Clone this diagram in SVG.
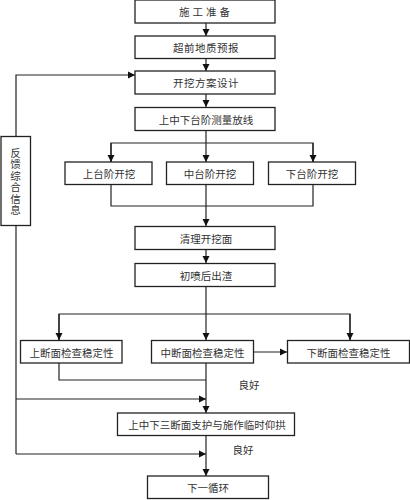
<svg xmlns="http://www.w3.org/2000/svg" width="410" height="500" viewBox="0 0 410 500">
<defs>
<marker id="ah" markerWidth="8" markerHeight="8" refX="7" refY="4" orient="auto" markerUnits="userSpaceOnUse">
<path d="M0,0.5 L7,4 L0,7.5 Z" fill="#111"/>
</marker>
<style>
.box{fill:#fff;stroke:#222;stroke-width:1.3}
.t{font-family:"Noto Sans CJK SC","Noto Sans",sans-serif;font-size:10.5px;fill:#333;text-anchor:middle;dominant-baseline:central}
.v{font-family:"Noto Sans CJK SC","Noto Sans",sans-serif;font-size:10.5px;fill:#333;text-anchor:middle;writing-mode:vertical-rl;letter-spacing:1px}
.c{fill:none;stroke:#222;stroke-width:1.2}
.a{fill:none;stroke:#222;stroke-width:1.2;marker-end:url(#ah)}
</style>
</defs>
<rect width="410" height="500" fill="#fff"/>

<g id="connectors">
<line class="a" x1="206" y1="23" x2="206" y2="36"/>
<line class="a" x1="206" y1="58" x2="206" y2="71"/>
<line class="a" x1="206" y1="94" x2="206" y2="107"/>
<line class="a" x1="206" y1="130" x2="206" y2="162"/>
<polyline class="c" points="111,162 111,143 313,143 313,162"/>
<line class="a" x1="111" y1="143" x2="111" y2="162"/>
<line class="a" x1="313" y1="143" x2="313" y2="162"/>
<polyline class="c" points="111,184 111,206 313,206 313,184"/>
<line class="a" x1="206" y1="184" x2="206" y2="226"/>
<line class="a" x1="206" y1="249" x2="206" y2="263"/>
<line class="a" x1="206" y1="286" x2="206" y2="340"/>
<polyline class="c" points="59,340 59,314 350,314 350,340"/>
<line class="a" x1="59" y1="314" x2="59" y2="340"/>
<line class="a" x1="350" y1="314" x2="350" y2="340"/>
<line class="a" x1="253" y1="352" x2="287" y2="352"/>
<polyline class="c" points="59,363 59,380 206,380"/>
<line class="a" x1="206" y1="363" x2="206" y2="413"/>
<line class="a" x1="206" y1="435" x2="206" y2="476"/>
<polyline class="a" points="16,136 16,75 135,75"/>
<line class="c" x1="16" y1="225" x2="16" y2="454"/>
<line class="a" x1="16" y1="399" x2="206" y2="399"/>
<line class="a" x1="16" y1="454" x2="206" y2="454"/>
<text class="t" x="249" y="384">良好</text>
<text class="t" x="243" y="449">良好</text>
</g>

<g id="n1"><rect class="box" x="135" y="0" width="140" height="23"/><text class="t" x="206" y="11.5" letter-spacing="3">施工准备</text></g>
<g id="n2"><rect class="box" x="135" y="36" width="140" height="22.5"/><text class="t" x="206" y="47" letter-spacing="0.5">超前地质预报</text></g>
<g id="n3"><rect class="box" x="135" y="71" width="140" height="23"/><text class="t" x="206" y="82.5" letter-spacing="0.5">开挖方案设计</text></g>
<g id="n4"><rect class="box" x="135" y="107.5" width="140" height="23"/><text class="t" x="206" y="119">上中下台阶测量放线</text></g>
<g id="n5"><rect class="box" x="65" y="162" width="87" height="22.5"/><text class="t" x="109" y="173">上台阶开挖</text></g>
<g id="n6"><rect class="box" x="166.5" y="162" width="87" height="22.5"/><text class="t" x="210" y="173">中台阶开挖</text></g>
<g id="n7"><rect class="box" x="268.5" y="162" width="87" height="22.5"/><text class="t" x="312" y="173">下台阶开挖</text></g>
<g id="n8"><rect class="box" x="135" y="226.5" width="140" height="23"/><text class="t" x="206" y="238">清理开挖面</text></g>
<g id="n9"><rect class="box" x="135" y="263.5" width="140" height="23"/><text class="t" x="206" y="275">初喷后出渣</text></g>
<g id="n10"><rect class="box" x="20.5" y="340.5" width="101.5" height="22.5"/><text class="t" x="71.5" y="352">上断面检查稳定性</text></g>
<g id="n11"><rect class="box" x="151.5" y="340.5" width="102" height="22.5"/><text class="t" x="202.5" y="352">中断面检查稳定性</text></g>
<g id="n12"><rect class="box" x="287.5" y="340.5" width="122" height="22.5"/><text class="t" x="348.5" y="352">下断面检查稳定性</text></g>
<g id="n13"><rect class="box" x="117.5" y="413" width="177" height="22.5"/><text class="t" x="207" y="424">上中下三断面支护与施作临时仰拱</text></g>
<g id="n14"><rect class="box" x="147.5" y="476" width="121" height="22.5"/><text class="t" x="208" y="487">下一循环</text></g>
<g id="fb"><rect class="box" x="1" y="136.5" width="29.5" height="89"/>
<text class="v" x="15.5" y="182">反馈综合信息</text>
</g>
</svg>
